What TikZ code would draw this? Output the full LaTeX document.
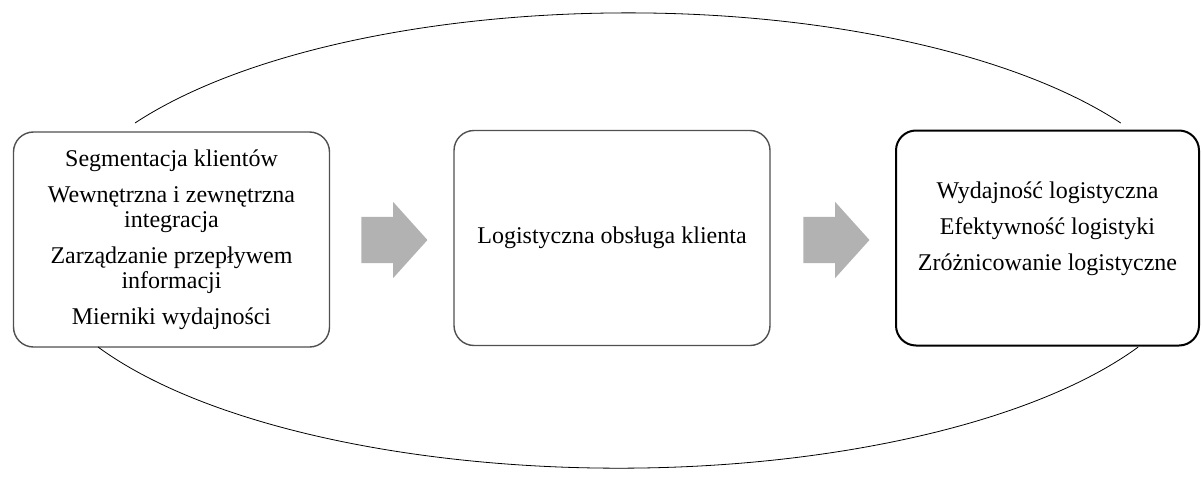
\documentclass[tikz,border=0pt]{standalone}
\usepackage{fontspec}
\setmainfont{Liberation Serif}
\usetikzlibrary{shapes.arrows,positioning}
\definecolor{BoxGray}{RGB}{80,80,80}
\definecolor{ArrowGray}{RGB}{178,178,178}

\begin{document}
\begin{tikzpicture}[x=1pt,y=-1pt,
    box/.style={draw=BoxGray,line width=1.4pt,fill=white,rounded corners=20pt,
                minimum width=316pt,minimum height=215pt,inner sep=0pt,
                font=\fontsize{24}{25}\selectfont,align=center},
    txt/.style={font=\fontsize{24}{25}\selectfont,align=center,inner sep=0pt},
    bigarrow/.style={single arrow,draw=none,fill=ArrowGray,
                     inner xsep=0pt,inner ysep=23pt,
                     minimum height=66pt,
                     single arrow head extend=15pt,single arrow tip angle=96},
    loop/.style={line width=0.8pt,black}]
    \useasboundingbox (0,0) rectangle (1202,479);

    \node[box] (left) at (171.5,239.5)
      {Segmentacja klientów\\[11pt]
       Wewnętrzna i zewnętrzna\\ integracja\\[11pt]
       Zarządzanie przepływem\\ informacji\\[11pt]
       Mierniki wydajności};
    \node[box] (mid) at (612,238) {Logistyczna obsługa klienta};
    \node[box,draw=black,line width=2pt,minimum width=303pt] (right) at (1047.5,238) {};
    \node[txt] (righttxt) at ([yshift=9pt]right.center)
      {Wydajność logistyczna\\[11pt]
       Efektywność logistyki\\[11pt]
       Zróżnicowanie logistyczne};

    \node[bigarrow] (ar1) at (384,240) {};
    \node[bigarrow] (ar2) at (826,240) {};

    % feedback loop
    \coordinate (tl) at (135,123);
    \coordinate (bl) at (98,347);
    \draw[loop] (tl) arc[start angle=211,end angle=329,x radius=575,y radius=227];
    \draw[loop] (bl) arc[start angle=152.2,end angle=27.8,x radius=588,y radius=227];
\end{tikzpicture}
\end{document}
